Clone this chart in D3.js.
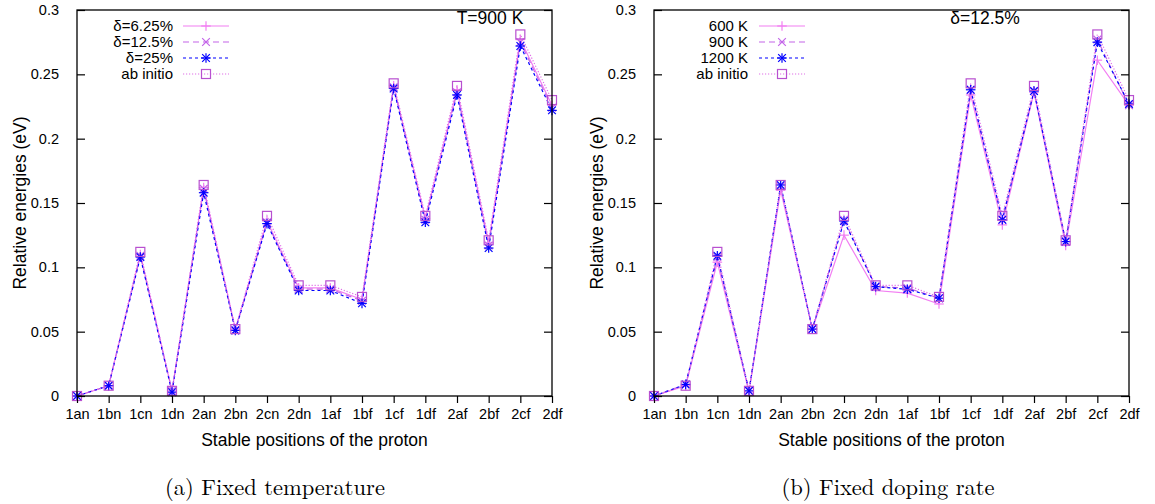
<!DOCTYPE html>
<html><head><meta charset="utf-8">
<script src="https://cdn.jsdelivr.net/npm/d3@7"></script>
<style>html,body{margin:0;padding:0;background:#fff;}svg{display:block;}</style>
</head><body>
<svg id="c" width="1155" height="504"></svg>
<script>
const categories = ["1an","1bn","1cn","1dn","2an","2bn","2cn","2dn","1af","1bf","1cf","1df","2af","2bf","2cf","2df"];
const yTicks = [0, 0.05, 0.1, 0.15, 0.2, 0.25, 0.3];
const yTickLabels = ["0","0.05","0.1","0.15","0.2","0.25","0.3"];

const abInitio = [0, 0.008, 0.112, 0.004, 0.164, 0.052, 0.140, 0.086, 0.086, 0.077, 0.243, 0.140, 0.241, 0.121, 0.281, 0.230];

const delta625 = [0, 0.008, 0.110, 0.004, 0.162, 0.052, 0.136, 0.084, 0.084, 0.075, 0.241, 0.138, 0.238, 0.119, 0.277, 0.226];
const delta125 = [0, 0.008, 0.109, 0.004, 0.161, 0.051, 0.135, 0.083, 0.083, 0.074, 0.240, 0.137, 0.236, 0.117, 0.275, 0.224];
const delta25  = [0, 0.008, 0.108, 0.003, 0.158, 0.051, 0.134, 0.082, 0.082, 0.072, 0.239, 0.135, 0.234, 0.115, 0.272, 0.222];

const temp600  = [0, 0.008, 0.104, 0.003, 0.160, 0.052, 0.125, 0.082, 0.080, 0.0715, 0.234, 0.133, 0.236, 0.117, 0.261, 0.226];
const temp900  = [0, 0.009, 0.108, 0.004, 0.163, 0.052, 0.137, 0.085, 0.084, 0.076, 0.238, 0.137, 0.237, 0.120, 0.277, 0.226];
const temp1200 = [0, 0.009, 0.109, 0.004, 0.164, 0.052, 0.136, 0.085, 0.083, 0.076, 0.238, 0.137, 0.237, 0.120, 0.275, 0.227];

const labelsA = ["δ=6.25%","δ=12.5%","δ=25%","ab initio"];
const labelsB = ["600 K","900 K","1200 K","ab initio"];
const titleA = "T=900 K", titleB = "δ=12.5%";
const captionA = "(a) Fixed temperature", captionB = "(b) Fixed doping rate";
const xTitle = "Stable positions of the proton", yTitle = "Relative energies (eV)";

const styles = [
  {color:"#f27ef2", dash:null, marker:"plus"},
  {color:"#c364e8", dash:"6,4", marker:"cross"},
  {color:"#0000ff", dash:"3,3", marker:"star"},
  {color:"#b850d0", dash:"1.2,1.8", marker:"square", lineColor:"#e070e8"}
];

const panels = [
  {x0:77, x1:552, series:[delta625, delta125, delta25, abInitio], labels:labelsA, title:titleA, titleX:490, caption:captionA, capX:275,
   legTextX:173, legLine:[183,229]},
  {x0:654, x1:1129, series:[temp600, temp900, temp1200, abInitio], labels:labelsB, title:titleB, titleX:985, caption:captionB, capX:888,
   legTextX:748, legLine:[759,805]}
];
const yTop = 10, yBot = 396;
const svg = d3.select("#c");
const sans = "'Liberation Sans', Arial, Helvetica, sans-serif";
const serif = "'Latin Modern Roman','CMU Serif','DejaVu Serif','Liberation Serif',serif";

function drawMarker(g, type, cx, cy, color){
  const s = 4.8;
  const st = {stroke:color, "stroke-width":1.2, fill:"none"};
  const ln = (x1,y1,x2,y2)=>{const l=g.append("line").attr("x1",x1).attr("y1",y1).attr("x2",x2).attr("y2",y2);for(const k in st)l.attr(k,st[k]);};
  if(type==="plus"||type==="star"){ln(cx-s,cy,cx+s,cy);ln(cx,cy-s,cx,cy+s);}
  if(type==="cross"||type==="star"){ln(cx-s*0.8,cy-s*0.8,cx+s*0.8,cy+s*0.8);ln(cx-s*0.8,cy+s*0.8,cx+s*0.8,cy-s*0.8);}
  if(type==="square"){g.append("rect").attr("x",cx-4.5).attr("y",cy-4.5).attr("width",9).attr("height",9).attr("stroke",color).attr("stroke-width",1.2).attr("fill","none");}
}

panels.forEach(p=>{
  const x = d3.scalePoint().domain(categories).range([p.x0,p.x1]);
  const y = d3.scaleLinear().domain([0,0.3]).range([yBot,yTop]);
  const g = svg.append("g");

  const line = d3.line().x((d,i)=>x(categories[i])).y(d=>y(d));
  p.series.forEach((s,k)=>{
    const st = styles[k];
    g.append("path").datum(s).attr("d",line).attr("fill","none")
      .attr("stroke", st.lineColor||st.color).attr("stroke-width",1.2)
      .attr("stroke-dasharray", st.dash);
  });
  p.series.forEach((s,k)=>{
    const st = styles[k];
    s.forEach((v,i)=>drawMarker(g, st.marker, x(categories[i]), y(v), st.color));
  });

  g.append("rect").attr("x",p.x0).attr("y",yTop).attr("width",p.x1-p.x0).attr("height",yBot-yTop)
    .attr("fill","none").attr("stroke","#000").attr("stroke-width",1.3);

  const ya = d3.axisLeft(y).tickValues(yTicks).tickFormat((d,i)=>yTickLabels[i]).tickSizeInner(-8).tickSizeOuter(0).tickPadding(18);
  const yg = g.append("g").attr("transform",`translate(${p.x0},0)`).call(ya);
  yg.select(".domain").remove();
  yg.selectAll("text").attr("font-family",sans).attr("font-size",14.5).attr("fill","#000");
  const yr = d3.axisRight(y).tickValues(yTicks).tickFormat("").tickSizeInner(-8).tickSizeOuter(0);
  const yrg = g.append("g").attr("transform",`translate(${p.x1},0)`).call(yr);
  yrg.select(".domain").remove();

  const xa = d3.axisBottom(x).tickSizeInner(7).tickSizeOuter(0).tickPadding(6);
  const xg = g.append("g").attr("transform",`translate(0,${yBot})`).call(xa);
  xg.select(".domain").remove();
  xg.selectAll("text").attr("font-family",sans).attr("font-size",14.5).attr("fill","#000");
  g.selectAll(".tick line").attr("stroke","#000").attr("stroke-width",1.2);

  g.append("text").attr("x",(p.x0+p.x1)/2).attr("y",446).attr("text-anchor","middle")
    .attr("font-family",sans).attr("font-size",17.5).text(xTitle);
  g.append("text").attr("transform",`translate(${p.x0-51},${(yTop+yBot)/2}) rotate(-90)`)
    .attr("text-anchor","middle").attr("font-family",sans).attr("font-size",17.5).text(yTitle);

  g.append("text").attr("x",p.titleX).attr("y",24).attr("text-anchor","middle")
    .attr("font-family",sans).attr("font-size",17.5).text(p.title);

  const rows = [26,42,58,74];
  p.labels.forEach((lab,k)=>{
    const st = styles[k];
    g.append("text").attr("x",p.legTextX).attr("y",rows[k]+5).attr("text-anchor","end")
      .attr("font-family",sans).attr("font-size",15).text(lab);
    g.append("line").attr("x1",p.legLine[0]).attr("x2",p.legLine[1]).attr("y1",rows[k]).attr("y2",rows[k])
      .attr("stroke",st.lineColor||st.color).attr("stroke-width",1.2).attr("stroke-dasharray",st.dash);
    drawMarker(g, st.marker, (p.legLine[0]+p.legLine[1])/2, rows[k], st.color);
  });

  g.append("text").attr("x",p.capX).attr("y",495).attr("text-anchor","middle")
    .attr("font-family",serif).attr("font-size",22.5).text(p.caption);
});
</script>
</body></html>
